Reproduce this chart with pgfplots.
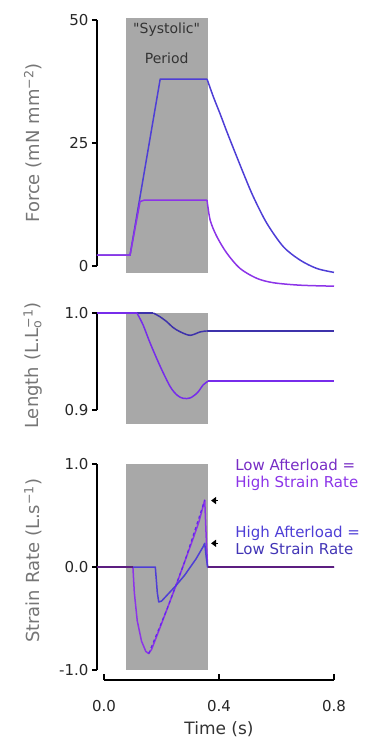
\documentclass[border=0pt]{standalone}
\usepackage{pgfplots}
\pgfplotsset{compat=1.18}
\usepackage{fontspec}
\setmainfont{DejaVu Sans}
\newfontfamily\plainquotes{DejaVu Sans}
\usetikzlibrary{arrows.meta}

\definecolor{band}{RGB}{168,168,168}
\definecolor{hiload}{RGB}{78,62,214}
\definecolor{loload}{RGB}{140,52,232}
\definecolor{labelgray}{RGB}{118,118,118}
\definecolor{zeroline}{RGB}{92,30,128}

\pgfplotsset{
  panel/.style={
    scale only axis, width=237pt, clip=false,
    xmin=-0.025, xmax=0.8,
    axis x line=none, axis y line=left,
    y axis line style={-, line width=1.4pt, black},
    ytick style={line width=1.4pt, black},
    tick align=outside, major tick length=5pt,
    yticklabel style={font=\fontsize{15}{15}\selectfont, text=black!85},
    ylabel style={font=\fontsize{18}{18}\selectfont, text=labelgray,
      at={(axis description cs:-0.27,0.5)}, anchor=center},
  },
  trace/.style={line width=1.5pt, line join=round},
}

\begin{document}
\begin{tikzpicture}[x=1pt,y=1pt]
\path[use as bounding box] (0,0) rectangle (366,-747);
\clip (0,0) rectangle (366,-747);

% Developed force: activation (linear) and relaxation (smooth)
\begin{axis}[panel, at={(97pt,-266pt)}, anchor=south west, height=246pt,
  ymin=0, ymax=50, ytick={0,25,50}, yticklabels={0,25,50},
  ylabel={Force (mN mm\textsuperscript{−2})}]
\addplot[fill=band, draw=none, forget plot] coordinates
  {(0.075,-1.4) (0.36,-1.4) (0.36,50.4) (0.075,50.4)};
\node[font=\fontsize{14}{14}\selectfont, text=black!80] at (axis cs:0.2175,48) {{\plainquotes"}Systolic{\plainquotes"}};
\node[font=\fontsize{14}{14}\selectfont, text=black!80] at (axis cs:0.2175,42.3) {Period};
\addplot[trace, hiload] coordinates {
  (-0.025,2.2) (0.09,2.2) (0.195,38.0) (0.358,38.0)};
\addplot[trace, hiload, smooth, tension=0.5] coordinates {
  (0.358,38.0) (0.380,34.4) (0.403,31.0) (0.427,27.3) (0.450,23.9) (0.485,18.8)
  (0.519,14.1) (0.566,8.7) (0.624,3.9) (0.682,1.2) (0.740,-0.5) (0.800,-1.3)};
\addplot[trace, loload] coordinates {
  (-0.025,2.2) (0.09,2.2) (0.125,13.1) (0.14,13.4) (0.358,13.4)};
\addplot[trace, loload, smooth, tension=0.5] coordinates {
  (0.358,13.4) (0.369,9.3) (0.392,6.0) (0.427,2.6) (0.473,-0.5) (0.531,-2.5)
  (0.589,-3.4) (0.682,-3.9) (0.800,-4.1)};
\end{axis}

% Muscle length: rest, shortening (smooth), then held
\begin{axis}[panel, at={(97pt,-410pt)}, anchor=south west, height=97pt,
  ymin=0.9, ymax=1.0, ytick={0.9,1.0}, yticklabels={0.9,1.0},
  ylabel={Length (L.L\rlap{\textsubscript{o}}\textsuperscript{−1})},
  ylabel style={at={(axis description cs:-0.27,0.46)}}]
\addplot[fill=band, draw=none, forget plot] coordinates
  {(0.075,0.8856) (0.36,0.8856) (0.36,1.0) (0.075,1.0)};
\addplot[trace, hiload!80!black] coordinates {(-0.025,1.0) (0.171,1.0)};
\addplot[trace, hiload!80!black, smooth, tension=0.5] coordinates {
  (0.171,1.0) (0.195,0.996) (0.218,0.991) (0.24,0.985) (0.264,0.9807)
  (0.299,0.977) (0.334,0.9805) (0.357,0.9815)};
\addplot[trace, hiload!80!black] coordinates {(0.357,0.9815) (0.80,0.9815)};
\addplot[trace, loload!85!blue] coordinates {(-0.025,1.0) (0.114,1.0)};
\addplot[trace, loload!85!blue, smooth, tension=0.5] coordinates {
  (0.114,1.0) (0.135,0.988) (0.160,0.969) (0.195,0.945) (0.230,0.924)
  (0.255,0.915) (0.276,0.912) (0.30,0.9125) (0.325,0.918) (0.345,0.926)
  (0.363,0.930)};
\addplot[trace, loload!85!blue] coordinates {(0.363,0.930) (0.80,0.930)};
\end{axis}

% Strain rate
\begin{axis}[panel, at={(97pt,-670pt)}, anchor=south west, height=206pt,
  ymin=-1, ymax=1, ytick={-1,0,1}, yticklabels={-1.0,0.0,1.0},
  ylabel={Strain Rate (L.s\textsuperscript{−1})},
  ylabel style={at={(axis description cs:-0.27,0.53)}}]
\addplot[fill=band, draw=none, forget plot] coordinates
  {(0.075,-1) (0.36,-1) (0.36,1) (0.075,1)};
\addplot[trace, loload] coordinates {
  (-0.025,0) (0.10,0) (0.105,-0.25) (0.115,-0.52) (0.13,-0.72) (0.145,-0.82)
  (0.155,-0.84) (0.165,-0.80) (0.19,-0.62) (0.22,-0.40) (0.25,-0.18) (0.28,0.05)
  (0.31,0.28) (0.33,0.44) (0.35,0.65) (0.355,0.3) (0.36,0) (0.8,0)};
\addplot[trace, hiload] coordinates {
  (-0.025,0) (0.178,0) (0.185,-0.25) (0.19,-0.34) (0.20,-0.33) (0.22,-0.27)
  (0.25,-0.18) (0.28,-0.08) (0.30,0.0) (0.32,0.08) (0.345,0.2) (0.35,0.23)
  (0.355,0.1) (0.36,0) (0.8,0)};
\addplot[line width=1.2pt, dashed, loload!70!blue] coordinates {
  (0.155,-0.84) (0.22,-0.40) (0.28,0.05) (0.35,0.65)};
\addplot[line width=1.5pt, zeroline] coordinates {(-0.025,0) (0.10,0)};
\addplot[line width=1.5pt, zeroline] coordinates {(0.36,0) (0.8,0)};
\draw[-{Triangle[length=5pt,width=7pt]}, line width=1.3pt] (axis cs:0.395,0.645) -- (axis cs:0.372,0.645);
\draw[-{Triangle[length=5pt,width=7pt]}, line width=1.3pt] (axis cs:0.395,0.23) -- (axis cs:0.372,0.23);
\begin{scope}[every node/.style={anchor=west, inner sep=0pt, font=\fontsize{15}{15}\selectfont}]
\node[text=loload!85!black] at (axis cs:0.456,0.99) {Low Afterload =};
\node[text=loload] at (axis cs:0.456,0.81) {High Strain Rate};
\node[text=hiload] at (axis cs:0.456,0.33) {High Afterload =};
\node[text=hiload!85!black] at (axis cs:0.456,0.175) {Low Strain Rate};
\end{scope}
\end{axis}

% Shared time axis
\begin{axis}[scale only axis, width=230pt, height=20pt,
  at={(104pt,-680pt)}, anchor=south west,
  xmin=0, xmax=0.8, ymin=0, ymax=1,
  axis x line=bottom, axis y line=none,
  x axis line style={-, line width=1.4pt, black},
  xtick style={line width=1.4pt, black},
  tick align=inside, major tick length=6pt,
  xtick={0,0.4,0.8}, xticklabels={0.0,0.4,0.8},
  xticklabel style={font=\fontsize{15}{15}\selectfont, text=black!85, anchor=center, yshift=-26pt},
  xlabel={Time (s)},
  xlabel style={font=\fontsize{17}{17}\selectfont, text=black!80,
    at={(axis description cs:0.5,0)}, anchor=center, yshift=-49pt}]
\end{axis}
\end{tikzpicture}
\end{document}
